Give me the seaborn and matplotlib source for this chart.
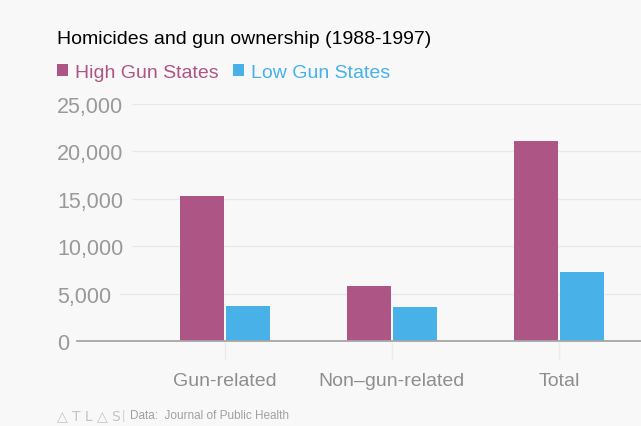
import matplotlib
matplotlib.use('Agg')
import matplotlib.pyplot as plt
import seaborn as sns
import pandas as pd

# Homicides by type, 1988-1997
categories = ['Gun-related', 'Non\u2013gun-related', 'Total']
high_gun = [15300, 5820, 21120]
low_gun = [3650, 3580, 7230]
groups = ['High Gun States', 'Low Gun States']
colors = ['#ad5686', '#47b1e8']
yticks = [0, 5000, 10000, 15000, 20000, 25000]

df = pd.DataFrame({
    'category': categories * 2,
    'value': high_gun + low_gun,
    'group': [groups[0]] * 3 + [groups[1]] * 3,
})

sns.set_style('white')
plt.rcParams['font.family'] = ['Liberation Sans', 'DejaVu Sans']

bg = '#f8f8f8'
fig = plt.figure(figsize=(6.41, 4.27), dpi=100, facecolor=bg)
ax = fig.add_axes([77 / 641, 85 / 427, 564 / 641, 237 / 427])
ax.set_facecolor(bg)

sns.barplot(data=df, x='category', y='value', hue='group', palette=colors,
            width=0.55, gap=0.04, linewidth=0, saturation=1, ax=ax)

ax.set_xlim(-0.886, 2.491)
ax.set_ylim(0, 25000)
ax.set_yticks(yticks)
ax.set_yticklabels([f'{v:,}' for v in yticks])
ax.set_xlabel('')
ax.set_ylabel('')

for side in ['top', 'right', 'left']:
    ax.spines[side].set_visible(False)
ax.spines['bottom'].set_color('#a6a6a6')
ax.spines['bottom'].set_linewidth(1.3)

ax.set_axisbelow(True)
ax.yaxis.grid(True, color='#e9e9e9', linewidth=1)
ax.tick_params(axis='y', length=0, pad=14.4, labelsize=15.5, labelcolor='#999999')
ax.tick_params(axis='x', length=13.7, width=1, color='#ebebeb', pad=8.5,
               labelsize=14, labelcolor='#8e8e8e', bottom=True)
for lbl in ax.get_yticklabels():
    lbl.set_ha('left')
    lbl.set_bbox(dict(boxstyle='square,pad=0.4', facecolor=bg, edgecolor='none'))
ax.get_yticklabels()[0].set_bbox(None)

# legend
handles, labels = ax.get_legend_handles_labels()
ax.get_legend().remove()
leg = fig.legend(handles, labels, loc='center left', bbox_to_anchor=(57 / 641, 1 - 73 / 427),
                 ncol=2, frameon=False, fontsize=14, handlelength=0.57, handleheight=0.57,
                 handletextpad=0.36, columnspacing=0.72, borderpad=0, borderaxespad=0)
for t, c in zip(leg.get_texts(), colors):
    t.set_color(c)

fig.text(57 / 641, 1 - 40 / 427, 'Homicides and gun ownership (1988-1997)',
         fontsize=14, color='black', va='center', ha='left')

# footer
fig.text(57 / 641, 1 - 416 / 427, '\u25b3 T L \u25b3 S', fontsize=10, color='#c4c4c4',
         va='center', ha='left', family=['DejaVu Sans'])
fig.text(122 / 641, 1 - 416 / 427, '|', fontsize=9, color='#d0d0d0', va='center', ha='left')
fig.text(130 / 641, 1 - 416 / 427, 'Data:  Journal of Public Health', fontsize=8.5,
         color='#a0a0a0', va='center', ha='left')

fig.savefig('out.png', dpi=100, facecolor=bg)
